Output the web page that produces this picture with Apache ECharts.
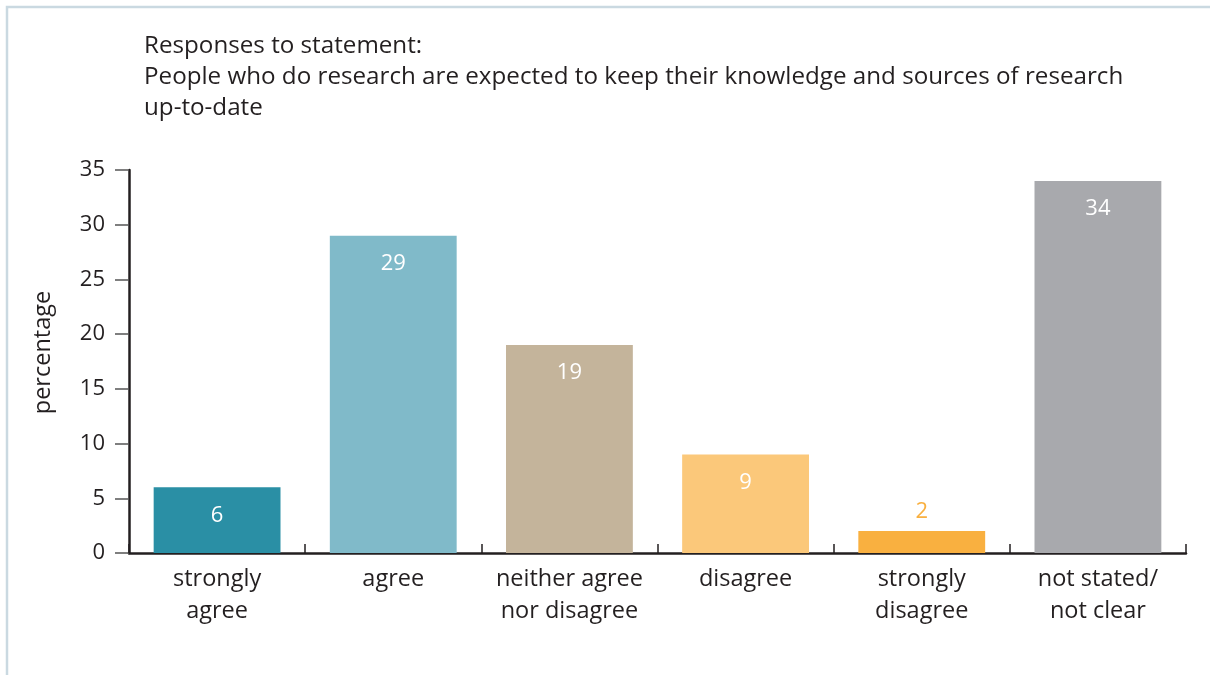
<!DOCTYPE html>
<html>
<head>
<meta charset="utf-8">
<script src="https://cdn.jsdelivr.net/npm/echarts@6/dist/echarts.min.js"></script>
<style>
  html, body { margin: 0; padding: 0; background: #fff; }
  #chart { width: 1210px; height: 675px; }
</style>
</head>
<body>
<div id="chart"></div>
<script>
// Survey responses (percentage of respondents)
const categories = ['strongly\nagree', 'agree', 'neither agree\nnor disagree', 'disagree', 'strongly\ndisagree', 'not stated/\nnot clear'];
const values = [6, 29, 19, 9, 2, 34];
const barColors = ['#2a8fa5', '#80bac9', '#c4b49b', '#fbc87a', '#f9b040', '#a8a9ad'];
const yTicks = [0, 5, 10, 15, 20, 25, 30, 35];
const titleLines = ['Responses to statement:', 'People who do research are expected to keep their knowledge and sources of research', 'up-to-date'];

const fontFamily = '"Open Sans", "Noto Sans", sans-serif';
const textColor = '#231f20';

const chart = echarts.init(document.getElementById('chart'));

const data = values.map((v, i) => {
  const small = v < 5;
  return {
    value: v,
    itemStyle: { color: barColors[i] },
    label: small
      ? { position: 'top', distance: 8, color: barColors[i] }
      : { position: 'insideTop', distance: 17, color: '#ffffff' }
  };
});

chart.setOption({
  animation: false,
  textStyle: { fontFamily },
  title: {
    text: titleLines.join('\n'),
    left: 139,
    top: 26,
    textStyle: { fontSize: 24.2, fontWeight: 'normal', color: textColor, lineHeight: 31, fontFamily }
  },
  graphic: [{
    type: 'rect',
    shape: { x: 7, y: 7, width: 1400, height: 900 },
    style: { fill: 'none', stroke: '#cad9e1', lineWidth: 2.5 },
    silent: true
  }],
  grid: { left: 129, right: 24, top: 170, bottom: 122 },
  xAxis: {
    type: 'category',
    data: categories,
    axisLine: { lineStyle: { color: textColor, width: 2.5 } },
    axisTick: { show: true, inside: true, length: 9, lineStyle: { color: textColor, width: 1.5 } },
    axisLabel: { color: textColor, fontSize: 23.5, lineHeight: 32, margin: 10, interval: 0 }
  },
  yAxis: {
    type: 'value',
    min: 0,
    max: 35,
    interval: 5,
    name: 'percentage',
    nameLocation: 'middle',
    nameRotate: 90,
    nameGap: 74,
    nameTextStyle: { fontSize: 23.5, color: textColor, fontFamily, padding: [0, 0, 0, 18] },
    splitLine: { show: false },
    axisLine: { show: true, lineStyle: { color: textColor, width: 2.5 } },
    axisTick: { show: true, length: 14, lineStyle: { color: '#555', width: 1.5 } },
    axisLabel: {
      color: textColor, fontSize: 22, margin: 24,
      formatter: v => (yTicks.includes(v) ? String(v) : '')
    }
  },
  series: [{
    type: 'bar',
    data,
    barCategoryGap: '28%',
    label: { show: true, fontSize: 22, fontFamily }
  }]
});
</script>
</body>
</html>
